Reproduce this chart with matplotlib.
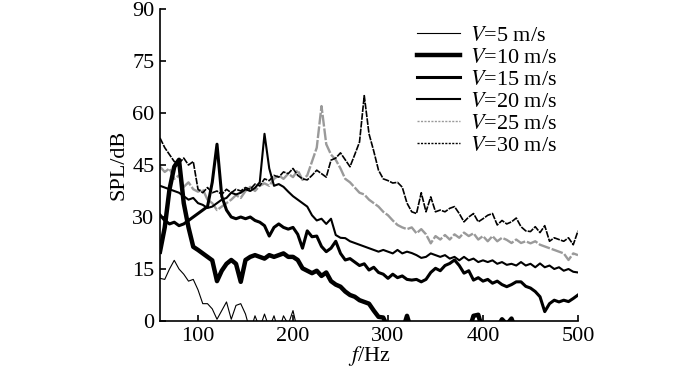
import numpy as np
import matplotlib
matplotlib.use('Agg')
import matplotlib.pyplot as plt

# frequency grid, 5 Hz steps from 60 to 500
freq = np.arange(60, 505, 5)

spl_5 = [12.3, 12.0, 15.0, 17.5, 15.0, 13.5, 11.5, 12.0, 9.0, 5.0,
         5.0, 3.5, 0.5, 3.0, 5.5, 0.5, 4.5, 5.0, 2.0, -3.0,
         1.5, -2.0, 2.0, -2.0, 1.5, -3.0, 1.5, -1.0, 3.0, -3.0,
         -6.0]

spl_10 = [20.0, 27.0, 38.0, 44.5, 46.5, 34.0, 27.0, 21.4, 20.5, 19.5,
          18.5, 17.5, 11.5, 14.5, 16.5, 17.6, 16.5, 11.3, 17.6, 18.5,
          19.0, 18.5, 18.0, 19.0, 18.5, 19.0, 19.5, 18.5, 18.5, 17.6,
          15.2, 14.5, 13.8, 14.5, 13.0, 14.0, 11.5, 10.5, 9.9, 8.5,
          7.5, 7.0, 6.0, 5.5, 5.0, 3.0, 1.2, 1.0, -2.0, -4.0,
          -4.0, -3.0, 1.5, -3.0, -5.0, -5.0, -5.0, -5.0, -5.0, -5.0,
          -5.0, -5.0, -5.0, -5.0, -5.0, -3.0, 1.5, 1.8, -3.0, -5.0,
          -5.0, -2.0, 0.5, -1.0, 0.7, -3.0, -5.0, -5.0, -5.0, -5.0,
          -5.0, -5.0, -5.0, -5.0, -5.0, -5.0, -5.0, -5.0, -5.0]

spl_15 = [30.6, 29.0, 28.0, 28.5, 27.5, 28.0, 29.0, 30.0, 31.0, 32.0,
          33.0, 40.0, 51.0, 36.0, 32.0, 30.0, 29.5, 30.0, 29.5, 30.0,
          29.0, 28.5, 27.5, 24.5, 27.0, 28.0, 27.0, 26.5, 27.0, 25.0,
          21.0, 26.0, 24.3, 24.5, 21.5, 20.0, 21.0, 23.0, 19.5, 17.6,
          18.0, 17.0, 16.0, 16.5, 14.7, 15.5, 14.0, 13.5, 12.3, 13.5,
          12.5, 13.0, 12.0, 11.8, 12.0, 11.3, 12.0, 14.0, 15.2, 14.5,
          16.0, 16.6, 17.6, 16.0, 13.8, 14.5, 11.8, 12.5, 11.5, 12.0,
          10.9, 11.5, 10.5, 9.9, 10.5, 11.3, 11.3, 10.0, 9.5, 8.5,
          7.0, 2.7, 5.0, 6.0, 5.5, 6.0, 5.6, 6.5, 7.5]

spl_20 = [39.0, 38.5, 38.0, 37.5, 37.0, 36.0, 35.0, 35.5, 34.0, 33.5,
          32.6, 33.0, 34.0, 35.0, 35.5, 37.0, 36.5, 37.0, 38.0, 37.5,
          38.4, 40.0, 54.0, 44.0, 39.0, 39.5, 38.7, 37.3, 36.0, 35.0,
          34.0, 33.0, 30.5, 29.0, 29.5, 28.0, 29.5, 24.8, 24.0, 23.9,
          23.0, 22.5, 22.0, 21.5, 21.0, 20.5, 20.0, 20.5, 20.0, 19.5,
          20.5, 19.5, 20.0, 19.6, 19.0, 18.2, 18.5, 19.5, 19.0, 18.5,
          19.0, 18.0, 18.5, 17.5, 18.5, 17.5, 18.0, 17.0, 17.5, 17.0,
          17.5, 16.5, 17.0, 16.2, 16.5, 16.0, 17.0, 16.0, 16.5, 15.5,
          16.6, 15.5, 16.0, 15.0, 15.5, 14.5, 15.0, 14.2, 14.0]

spl_25 = [44.5, 43.0, 44.0, 41.0, 42.0, 38.7, 40.0, 38.0, 37.3, 38.0,
          35.0, 34.0, 32.0, 33.0, 34.0, 35.0, 36.3, 35.5, 37.5, 38.7,
          37.5, 39.0, 39.7, 39.0, 41.0, 42.0, 41.0, 42.5, 41.5, 43.5,
          40.7, 42.0, 46.0, 50.0, 62.0, 51.0, 48.0, 46.5, 44.0, 41.0,
          40.0, 38.5, 37.0, 36.5, 35.0, 34.0, 33.0, 31.5, 30.5, 29.0,
          27.7, 27.0, 26.5, 27.0, 25.3, 26.5, 25.0, 22.4, 24.5, 23.5,
          24.8, 23.5, 25.0, 24.0, 25.5, 24.5, 25.3, 23.5, 24.5, 23.0,
          24.5, 23.0, 24.0, 23.4, 22.5, 23.5, 22.5, 23.0, 22.4, 23.0,
          22.0, 21.5, 21.0, 20.5, 20.0, 19.5, 17.6, 19.5, 19.0]

spl_30 = [52.8, 50.0, 48.0, 46.0, 45.5, 47.0, 45.0, 46.0, 38.0, 37.0,
          38.5, 37.0, 37.5, 36.5, 38.0, 37.0, 38.0, 37.5, 38.5, 38.0,
          39.5, 39.0, 41.0, 40.5, 42.0, 41.5, 43.0, 42.5, 44.0, 42.0,
          41.0, 40.7, 42.0, 43.5, 42.5, 41.5, 46.4, 47.0, 48.5, 46.5,
          44.5, 48.0, 51.6, 65.0, 54.0, 49.0, 43.5, 41.0, 40.5, 39.8,
          40.0, 38.6, 34.0, 31.5, 31.0, 37.0, 31.5, 35.8, 31.5, 32.0,
          31.5, 32.5, 33.0, 31.0, 28.6, 30.0, 31.0, 28.6, 29.5, 30.5,
          31.0, 27.7, 29.0, 28.0, 28.6, 29.7, 27.2, 26.0, 25.8, 27.2,
          25.5, 27.5, 23.0, 24.0, 23.5, 23.0, 24.0, 22.0, 26.0]

labels = ['$V$=5 m/s', '$V$=10 m/s', '$V$=15 m/s',
          '$V$=20 m/s', '$V$=25 m/s', '$V$=30 m/s']

plt.rcParams['font.family'] = ['Liberation Serif', 'DejaVu Serif']
plt.rcParams['mathtext.fontset'] = 'stix'
plt.rcParams['font.size'] = 16

fig = plt.figure(figsize=(7, 3.74), dpi=100)
ax = fig.add_axes([160 / 700, 1 - 321 / 374, 418 / 700, 312 / 374])

# drawing order: dashed ones underneath, thick ones on top
l25, = ax.plot(freq, spl_25, color='#9a9a9a', lw=1.7, ls=(0, (5, 0.8)))
l30, = ax.plot(freq, spl_30, color='black', lw=1.2, ls=(0, (4, 0.7)))
l20, = ax.plot(freq, spl_20, color='black', lw=1.5)
l15, = ax.plot(freq, spl_15, color='black', lw=2.2)
l10, = ax.plot(freq, spl_10, color='black', lw=3.2)
l5, = ax.plot(freq[:len(spl_5)], spl_5, color='black', lw=0.8)

ax.set_xlim(60, 500)
ax.set_ylim(0, 90)
ax.set_xticks([100, 200, 300, 400, 500])
ax.set_yticks(np.arange(0, 91, 15))
ax.tick_params(direction='in', length=4, width=1.2, pad=4)
for s in ['top', 'right']:
	ax.spines[s].set_visible(False)
for s in ['left', 'bottom']:
	ax.spines[s].set_linewidth(1.2)

ax.set_xlabel('$f$/Hz', labelpad=-1)
ax.set_ylabel('SPL/dB', labelpad=3)

handles = [l5, l10, l15, l20, l25, l30]
leg = fig.legend(handles, labels,
                 loc='upper left', bbox_to_anchor=(417 / 700, 1 - 25 / 374),
                 frameon=False, handlelength=1.95, handletextpad=0.45,
                 labelspacing=0.07, borderpad=0, borderaxespad=0)
# legend samples for the dashed series are finer dotted lines
leg.get_lines()[4].set_linestyle((0, (1.5, 1)))
leg.get_lines()[4].set_linewidth(1.0)
leg.get_lines()[5].set_linestyle((0, (1.5, 1)))
leg.get_lines()[5].set_linewidth(1.0)

fig.savefig('out.png', dpi=100)
